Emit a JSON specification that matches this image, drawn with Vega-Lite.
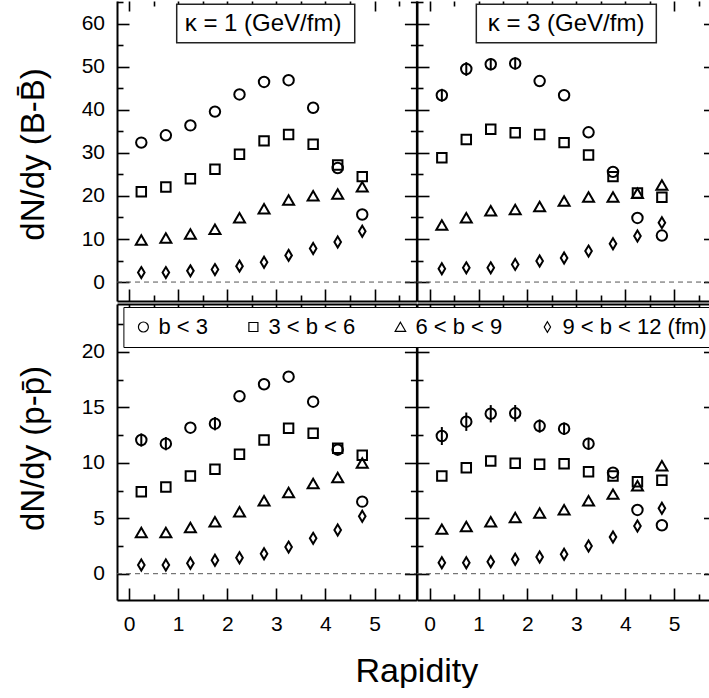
{
  "$schema": "https://vega.github.io/schema/vega-lite/v6.json",
  "autosize": {"type": "pad"},
  "padding": {"left": 17, "top": 0, "right": 0, "bottom": 0},
  "background": "white",
  "config": {
    "view": {"stroke": null},
    "font": "Liberation Sans",
    "axis": {"grid": false, "labels": false, "domain": false, "ticks": true, "tickColor": "black", "tickWidth": 1.6, "domainColor": "black", "domainWidth": 2, "labelColor": "black", "labelFont": "Liberation Sans", "labelFontSize": 21, "labelFlush": false, "labelOverlap": false, "zindex": 0}
  },
  "datasets": {
    "pts": [
      {"k":1,"s":"B","g":"b < 3","r":0.25,"v":32.4},{"k":1,"s":"B","g":"b < 3","r":0.75,"v":34.1},{"k":1,"s":"B","g":"b < 3","r":1.25,"v":36.4},{"k":1,"s":"B","g":"b < 3","r":1.75,"v":39.6},{"k":1,"s":"B","g":"b < 3","r":2.25,"v":43.6},{"k":1,"s":"B","g":"b < 3","r":2.75,"v":46.5},{"k":1,"s":"B","g":"b < 3","r":3.25,"v":46.9},{"k":1,"s":"B","g":"b < 3","r":3.75,"v":40.5},{"k":1,"s":"B","g":"b < 3","r":4.25,"v":26.5},{"k":1,"s":"B","g":"b < 3","r":4.75,"v":15.7},
      {"k":1,"s":"B","g":"3 < b < 6","r":0.25,"v":21.0},{"k":1,"s":"B","g":"3 < b < 6","r":0.75,"v":22.1},{"k":1,"s":"B","g":"3 < b < 6","r":1.25,"v":24.0},{"k":1,"s":"B","g":"3 < b < 6","r":1.75,"v":26.2},{"k":1,"s":"B","g":"3 < b < 6","r":2.25,"v":29.7},{"k":1,"s":"B","g":"3 < b < 6","r":2.75,"v":32.8},{"k":1,"s":"B","g":"3 < b < 6","r":3.25,"v":34.3},{"k":1,"s":"B","g":"3 < b < 6","r":3.75,"v":32.0},{"k":1,"s":"B","g":"3 < b < 6","r":4.25,"v":27.2},{"k":1,"s":"B","g":"3 < b < 6","r":4.75,"v":24.5},
      {"k":1,"s":"B","g":"6 < b < 9","r":0.25,"v":9.7},{"k":1,"s":"B","g":"6 < b < 9","r":0.75,"v":10.2},{"k":1,"s":"B","g":"6 < b < 9","r":1.25,"v":11.1},{"k":1,"s":"B","g":"6 < b < 9","r":1.75,"v":12.2},{"k":1,"s":"B","g":"6 < b < 9","r":2.25,"v":14.9},{"k":1,"s":"B","g":"6 < b < 9","r":2.75,"v":17.0},{"k":1,"s":"B","g":"6 < b < 9","r":3.25,"v":19.0},{"k":1,"s":"B","g":"6 < b < 9","r":3.75,"v":20.0},{"k":1,"s":"B","g":"6 < b < 9","r":4.25,"v":20.4},{"k":1,"s":"B","g":"6 < b < 9","r":4.75,"v":22.1},
      {"k":1,"s":"B","g":"9 < b < 12 (fm)","r":0.25,"v":2.2},{"k":1,"s":"B","g":"9 < b < 12 (fm)","r":0.75,"v":2.2},{"k":1,"s":"B","g":"9 < b < 12 (fm)","r":1.25,"v":2.6},{"k":1,"s":"B","g":"9 < b < 12 (fm)","r":1.75,"v":2.9},{"k":1,"s":"B","g":"9 < b < 12 (fm)","r":2.25,"v":3.7},{"k":1,"s":"B","g":"9 < b < 12 (fm)","r":2.75,"v":4.6},{"k":1,"s":"B","g":"9 < b < 12 (fm)","r":3.25,"v":6.2},{"k":1,"s":"B","g":"9 < b < 12 (fm)","r":3.75,"v":7.8},{"k":1,"s":"B","g":"9 < b < 12 (fm)","r":4.25,"v":9.3},{"k":1,"s":"B","g":"9 < b < 12 (fm)","r":4.75,"v":11.8},
      {"k":3,"s":"B","g":"b < 3","r":0.25,"v":43.4},{"k":3,"s":"B","g":"b < 3","r":0.75,"v":49.5},{"k":3,"s":"B","g":"b < 3","r":1.25,"v":50.6},{"k":3,"s":"B","g":"b < 3","r":1.75,"v":50.8},{"k":3,"s":"B","g":"b < 3","r":2.25,"v":46.7},{"k":3,"s":"B","g":"b < 3","r":2.75,"v":43.4},{"k":3,"s":"B","g":"b < 3","r":3.25,"v":34.8},{"k":3,"s":"B","g":"b < 3","r":3.75,"v":25.6},{"k":3,"s":"B","g":"b < 3","r":4.25,"v":14.9},{"k":3,"s":"B","g":"b < 3","r":4.75,"v":10.8},
      {"k":3,"s":"B","g":"3 < b < 6","r":0.25,"v":28.9},{"k":3,"s":"B","g":"3 < b < 6","r":0.75,"v":33.1},{"k":3,"s":"B","g":"3 < b < 6","r":1.25,"v":35.5},{"k":3,"s":"B","g":"3 < b < 6","r":1.75,"v":34.7},{"k":3,"s":"B","g":"3 < b < 6","r":2.25,"v":34.3},{"k":3,"s":"B","g":"3 < b < 6","r":2.75,"v":32.4},{"k":3,"s":"B","g":"3 < b < 6","r":3.25,"v":29.5},{"k":3,"s":"B","g":"3 < b < 6","r":3.75,"v":24.5},{"k":3,"s":"B","g":"3 < b < 6","r":4.25,"v":20.7},{"k":3,"s":"B","g":"3 < b < 6","r":4.75,"v":19.7},
      {"k":3,"s":"B","g":"6 < b < 9","r":0.25,"v":13.2},{"k":3,"s":"B","g":"6 < b < 9","r":0.75,"v":14.9},{"k":3,"s":"B","g":"6 < b < 9","r":1.25,"v":16.5},{"k":3,"s":"B","g":"6 < b < 9","r":1.75,"v":16.8},{"k":3,"s":"B","g":"6 < b < 9","r":2.25,"v":17.5},{"k":3,"s":"B","g":"6 < b < 9","r":2.75,"v":18.8},{"k":3,"s":"B","g":"6 < b < 9","r":3.25,"v":19.7},{"k":3,"s":"B","g":"6 < b < 9","r":3.75,"v":19.7},{"k":3,"s":"B","g":"6 < b < 9","r":4.25,"v":20.6},{"k":3,"s":"B","g":"6 < b < 9","r":4.75,"v":22.5},
      {"k":3,"s":"B","g":"9 < b < 12 (fm)","r":0.25,"v":3.1},{"k":3,"s":"B","g":"9 < b < 12 (fm)","r":0.75,"v":3.3},{"k":3,"s":"B","g":"9 < b < 12 (fm)","r":1.25,"v":3.3},{"k":3,"s":"B","g":"9 < b < 12 (fm)","r":1.75,"v":4.1},{"k":3,"s":"B","g":"9 < b < 12 (fm)","r":2.25,"v":4.9},{"k":3,"s":"B","g":"9 < b < 12 (fm)","r":2.75,"v":5.6},{"k":3,"s":"B","g":"9 < b < 12 (fm)","r":3.25,"v":7.2},{"k":3,"s":"B","g":"9 < b < 12 (fm)","r":3.75,"v":8.9},{"k":3,"s":"B","g":"9 < b < 12 (fm)","r":4.25,"v":10.7},{"k":3,"s":"B","g":"9 < b < 12 (fm)","r":4.75,"v":13.8},
      {"k":1,"s":"p","g":"b < 3","r":0.25,"v":12.06},{"k":1,"s":"p","g":"b < 3","r":0.75,"v":11.73},{"k":1,"s":"p","g":"b < 3","r":1.25,"v":13.17},{"k":1,"s":"p","g":"b < 3","r":1.75,"v":13.53},{"k":1,"s":"p","g":"b < 3","r":2.25,"v":16.0},{"k":1,"s":"p","g":"b < 3","r":2.75,"v":17.09},{"k":1,"s":"p","g":"b < 3","r":3.25,"v":17.77},{"k":1,"s":"p","g":"b < 3","r":3.75,"v":15.52},{"k":1,"s":"p","g":"b < 3","r":4.25,"v":11.19},{"k":1,"s":"p","g":"b < 3","r":4.75,"v":6.5},
      {"k":1,"s":"p","g":"3 < b < 6","r":0.25,"v":7.4},{"k":1,"s":"p","g":"3 < b < 6","r":0.75,"v":7.82},{"k":1,"s":"p","g":"3 < b < 6","r":1.25,"v":8.81},{"k":1,"s":"p","g":"3 < b < 6","r":1.75,"v":9.42},{"k":1,"s":"p","g":"3 < b < 6","r":2.25,"v":10.77},{"k":1,"s":"p","g":"3 < b < 6","r":2.75,"v":12.06},{"k":1,"s":"p","g":"3 < b < 6","r":3.25,"v":13.12},{"k":1,"s":"p","g":"3 < b < 6","r":3.75,"v":12.67},{"k":1,"s":"p","g":"3 < b < 6","r":4.25,"v":11.31},{"k":1,"s":"p","g":"3 < b < 6","r":4.75,"v":10.68},
      {"k":1,"s":"p","g":"6 < b < 9","r":0.25,"v":3.7},{"k":1,"s":"p","g":"6 < b < 9","r":0.75,"v":3.7},{"k":1,"s":"p","g":"6 < b < 9","r":1.25,"v":4.15},{"k":1,"s":"p","g":"6 < b < 9","r":1.75,"v":4.66},{"k":1,"s":"p","g":"6 < b < 9","r":2.25,"v":5.57},{"k":1,"s":"p","g":"6 < b < 9","r":2.75,"v":6.56},{"k":1,"s":"p","g":"6 < b < 9","r":3.25,"v":7.31},{"k":1,"s":"p","g":"6 < b < 9","r":3.75,"v":8.12},{"k":1,"s":"p","g":"6 < b < 9","r":4.25,"v":8.66},{"k":1,"s":"p","g":"6 < b < 9","r":4.75,"v":9.96},
      {"k":1,"s":"p","g":"9 < b < 12 (fm)","r":0.25,"v":0.78},{"k":1,"s":"p","g":"9 < b < 12 (fm)","r":0.75,"v":0.78},{"k":1,"s":"p","g":"9 < b < 12 (fm)","r":1.25,"v":0.94},{"k":1,"s":"p","g":"9 < b < 12 (fm)","r":1.75,"v":1.21},{"k":1,"s":"p","g":"9 < b < 12 (fm)","r":2.25,"v":1.44},{"k":1,"s":"p","g":"9 < b < 12 (fm)","r":2.75,"v":1.8},{"k":1,"s":"p","g":"9 < b < 12 (fm)","r":3.25,"v":2.4},{"k":1,"s":"p","g":"9 < b < 12 (fm)","r":3.75,"v":3.19},{"k":1,"s":"p","g":"9 < b < 12 (fm)","r":4.25,"v":3.94},{"k":1,"s":"p","g":"9 < b < 12 (fm)","r":4.75,"v":5.18},
      {"k":3,"s":"p","g":"b < 3","r":0.25,"v":12.42},{"k":3,"s":"p","g":"b < 3","r":0.75,"v":13.71},{"k":3,"s":"p","g":"b < 3","r":1.25,"v":14.43},{"k":3,"s":"p","g":"b < 3","r":1.75,"v":14.47},{"k":3,"s":"p","g":"b < 3","r":2.25,"v":13.32},{"k":3,"s":"p","g":"b < 3","r":2.75,"v":13.08},{"k":3,"s":"p","g":"b < 3","r":3.25,"v":11.73},{"k":3,"s":"p","g":"b < 3","r":3.75,"v":9.11},{"k":3,"s":"p","g":"b < 3","r":4.25,"v":5.75},{"k":3,"s":"p","g":"b < 3","r":4.75,"v":4.37},
      {"k":3,"s":"p","g":"3 < b < 6","r":0.25,"v":8.81},{"k":3,"s":"p","g":"3 < b < 6","r":0.75,"v":9.56},{"k":3,"s":"p","g":"3 < b < 6","r":1.25,"v":10.17},{"k":3,"s":"p","g":"3 < b < 6","r":1.75,"v":9.96},{"k":3,"s":"p","g":"3 < b < 6","r":2.25,"v":9.87},{"k":3,"s":"p","g":"3 < b < 6","r":2.75,"v":9.92},{"k":3,"s":"p","g":"3 < b < 6","r":3.25,"v":9.2},{"k":3,"s":"p","g":"3 < b < 6","r":3.75,"v":8.81},{"k":3,"s":"p","g":"3 < b < 6","r":4.25,"v":8.3},{"k":3,"s":"p","g":"3 < b < 6","r":4.75,"v":8.43},
      {"k":3,"s":"p","g":"6 < b < 9","r":0.25,"v":4.0},{"k":3,"s":"p","g":"6 < b < 9","r":0.75,"v":4.24},{"k":3,"s":"p","g":"6 < b < 9","r":1.25,"v":4.66},{"k":3,"s":"p","g":"6 < b < 9","r":1.75,"v":5.05},{"k":3,"s":"p","g":"6 < b < 9","r":2.25,"v":5.45},{"k":3,"s":"p","g":"6 < b < 9","r":2.75,"v":5.75},{"k":3,"s":"p","g":"6 < b < 9","r":3.25,"v":6.56},{"k":3,"s":"p","g":"6 < b < 9","r":3.75,"v":7.16},{"k":3,"s":"p","g":"6 < b < 9","r":4.25,"v":7.91},{"k":3,"s":"p","g":"6 < b < 9","r":4.75,"v":9.72},
      {"k":3,"s":"p","g":"9 < b < 12 (fm)","r":0.25,"v":0.99},{"k":3,"s":"p","g":"9 < b < 12 (fm)","r":0.75,"v":0.99},{"k":3,"s":"p","g":"9 < b < 12 (fm)","r":1.25,"v":1.08},{"k":3,"s":"p","g":"9 < b < 12 (fm)","r":1.75,"v":1.3},{"k":3,"s":"p","g":"9 < b < 12 (fm)","r":2.25,"v":1.5},{"k":3,"s":"p","g":"9 < b < 12 (fm)","r":2.75,"v":1.75},{"k":3,"s":"p","g":"9 < b < 12 (fm)","r":3.25,"v":2.5},{"k":3,"s":"p","g":"9 < b < 12 (fm)","r":3.75,"v":3.31},{"k":3,"s":"p","g":"9 < b < 12 (fm)","r":4.25,"v":4.3},{"k":3,"s":"p","g":"9 < b < 12 (fm)","r":4.75,"v":5.9}
    ],
    "errs": [
      {"k":3,"s":"B","r":0.25,"lo":41.9,"hi":44.9},{"k":3,"s":"B","r":0.75,"lo":47.9,"hi":51.1},{"k":3,"s":"B","r":1.25,"lo":49.2,"hi":52.0},{"k":3,"s":"B","r":1.75,"lo":49.4,"hi":52.2},
      {"k":1,"s":"p","r":0.25,"lo":11.46,"hi":12.66},{"k":1,"s":"p","r":0.75,"lo":11.13,"hi":12.33},{"k":1,"s":"p","r":1.75,"lo":12.93,"hi":14.13},
      {"k":3,"s":"p","r":0.25,"lo":11.61,"hi":13.23},{"k":3,"s":"p","r":0.75,"lo":12.88,"hi":14.54},{"k":3,"s":"p","r":1.25,"lo":13.65,"hi":15.21},{"k":3,"s":"p","r":1.75,"lo":13.72,"hi":15.22},{"k":3,"s":"p","r":2.25,"lo":12.72,"hi":13.92},{"k":3,"s":"p","r":2.75,"lo":12.52,"hi":13.64},{"k":3,"s":"p","r":3.25,"lo":11.2,"hi":12.26}
    ]
  },
  "columns": 2,
  "align": "each",
  "bounds": "flush",
  "spacing": {"row": 3, "column": 0},
  "resolve": {"scale": {"x": "independent", "y": "independent", "shape": "shared"}, "axis": {"x": "independent", "y": "independent"}, "legend": {"shape": "shared"}},
  "concat": [
    {
      "width": 299.4, "height": 300,
      "resolve": {"axis": {"x": "independent", "y": "independent"}},
      "layer": [
        {"data": {"values": [{}]}, "mark": {"type": "rule", "strokeDash": [5, 4], "color": "#555", "strokeWidth": 1},
         "encoding": {
           "x": {"datum": -0.245, "type": "quantitative", "scale": {"domain": [-0.245, 5.853], "nice": false, "zero": false}, "axis": {"orient": "bottom", "values": [0,1,2,3,4,5], "tickSize": -12, "domain": true, "title": null}},
           "x2": {"datum": 5.853},
           "y": {"datum": 0, "type": "quantitative", "scale": {"domain": [-4.4, 65.3], "nice": false, "zero": false}, "axis": {"orient": "left", "values": [0,10,20,30,40,50,60], "tickSize": -12, "domain": true, "title": null}}}},
        {"data": {"name": "pts"}, "transform": [{"filter": "datum.k == 1 && datum.s == 'B' && datum.g == 'b < 3'"}],
         "mark": {"type": "point", "filled": false, "opacity": 1, "stroke": "black", "strokeWidth": 2, "size": 121},
         "encoding": {
           "x": {"field": "r", "type": "quantitative", "scale": {"domain": [-0.245, 5.853], "nice": false, "zero": false}, "axis": {"orient": "bottom", "values": [0.5,1.5,2.5,3.5,4.5,5.5], "tickSize": -6, "title": null}},
           "y": {"field": "v", "type": "quantitative", "scale": {"domain": [-4.4, 65.3], "nice": false, "zero": false}, "axis": {"orient": "left", "values": [5,15,25,35,45,55,65], "tickSize": -6, "title": null}},
           "shape": {"field": "g", "type": "nominal", "scale": {"domain": ["b < 3", "3 < b < 6", "6 < b < 9", "9 < b < 12 (fm)"], "range": ["M0.95,0A0.95,0.95,0,1,1,-0.95,0A0.95,0.95,0,1,1,0.95,0Z", "M-0.86,-0.86L0.86,-0.86L0.86,0.86L-0.86,0.86Z", "M0,-0.9L1,0.82L-1,0.82Z", "M0,-1L0.6,0L0,1L-0.6,0Z"]},
             "legend": {"orient": "none", "legendX": 6.4, "legendY": 306, "direction": "horizontal", "columns": 4, "title": null, "symbolSize": 110, "symbolStrokeWidth": 1.2, "symbolStrokeColor": "black", "symbolFillColor": "transparent", "symbolOpacity": 1, "labelFont": "Liberation Sans", "labelFontSize": 22, "labelColor": "black", "labelOffset": 4, "labelLimit": 400, "columnPadding": 34, "padding": 9, "strokeColor": "black", "fillColor": "white", "zindex": 1}}}},
        {"data": {"name": "pts"}, "transform": [{"filter": "datum.k == 1 && datum.s == 'B' && datum.g == '3 < b < 6'"}],
         "mark": {"type": "point", "filled": false, "opacity": 1, "stroke": "black", "strokeWidth": 2, "size": 121},
         "encoding": {
           "x": {"field": "r", "type": "quantitative", "scale": {"domain": [-0.245, 5.853], "nice": false, "zero": false}, "axis": {"orient": "top", "values": [0,1,2,3,4,5], "tickSize": -10, "title": null}},
           "y": {"field": "v", "type": "quantitative", "scale": {"domain": [-4.4, 65.3], "nice": false, "zero": false}, "axis": {"orient": "right", "values": [0,10,20,30,40,50,60], "tickSize": -12, "domain": true, "title": null}},
           "shape": {"field": "g", "type": "nominal", "scale": {"domain": ["b < 3", "3 < b < 6", "6 < b < 9", "9 < b < 12 (fm)"], "range": ["M0.95,0A0.95,0.95,0,1,1,-0.95,0A0.95,0.95,0,1,1,0.95,0Z", "M-0.86,-0.86L0.86,-0.86L0.86,0.86L-0.86,0.86Z", "M0,-0.9L1,0.82L-1,0.82Z", "M0,-1L0.6,0L0,1L-0.6,0Z"]}, "legend": null}}},
        {"data": {"name": "pts"}, "transform": [{"filter": "datum.k == 1 && datum.s == 'B' && datum.g == '6 < b < 9'"}],
         "mark": {"type": "point", "filled": false, "opacity": 1, "stroke": "black", "strokeWidth": 2, "size": 121},
         "encoding": {
           "x": {"field": "r", "type": "quantitative", "scale": {"domain": [-0.245, 5.853], "nice": false, "zero": false}, "axis": {"orient": "top", "values": [0.5,1.5,2.5,3.5,4.5,5.5], "tickSize": -5, "title": null}},
           "y": {"field": "v", "type": "quantitative", "scale": {"domain": [-4.4, 65.3], "nice": false, "zero": false}, "axis": {"orient": "right", "values": [5,15,25,35,45,55,65], "tickSize": -6, "title": null}},
           "shape": {"field": "g", "type": "nominal", "scale": {"domain": ["b < 3", "3 < b < 6", "6 < b < 9", "9 < b < 12 (fm)"], "range": ["M0.95,0A0.95,0.95,0,1,1,-0.95,0A0.95,0.95,0,1,1,0.95,0Z", "M-0.86,-0.86L0.86,-0.86L0.86,0.86L-0.86,0.86Z", "M0,-0.9L1,0.82L-1,0.82Z", "M0,-1L0.6,0L0,1L-0.6,0Z"]}, "legend": null}}},
        {"data": {"name": "pts"}, "transform": [{"filter": "datum.k == 1 && datum.s == 'B' && datum.g == '9 < b < 12 (fm)'"}],
         "mark": {"type": "point", "filled": false, "opacity": 1, "stroke": "black", "strokeWidth": 2, "size": 121},
         "encoding": {
           "x": {"field": "r", "type": "quantitative", "scale": {"domain": [-0.245, 5.853], "nice": false, "zero": false}, "axis": null},
           "y": {"field": "v", "type": "quantitative", "scale": {"domain": [-4.4, 65.3], "nice": false, "zero": false}, "axis": {"orient": "left", "values": [0,10,20,30,40,50,60], "labels": true, "ticks": false, "tickSize": 0, "labelPadding": 12.5, "title": "dN/dy (B-B\u0304)", "titleFont": "Liberation Sans", "titleFontSize": 33, "titleFontWeight": "normal", "titleColor": "black", "titleAngle": 270, "titleX": -74, "titleY": 153, "titleBaseline": "alphabetic", "titleAlign": "center"}},
           "shape": {"field": "g", "type": "nominal", "scale": {"domain": ["b < 3", "3 < b < 6", "6 < b < 9", "9 < b < 12 (fm)"], "range": ["M0.95,0A0.95,0.95,0,1,1,-0.95,0A0.95,0.95,0,1,1,0.95,0Z", "M-0.86,-0.86L0.86,-0.86L0.86,0.86L-0.86,0.86Z", "M0,-0.9L1,0.82L-1,0.82Z", "M0,-1L0.6,0L0,1L-0.6,0Z"]}, "legend": null}}},
        {"data": {"values": [{}]}, "mark": {"type": "rect", "fill": "white", "stroke": "#222", "strokeWidth": 1.5},
         "encoding": {
           "x": {"datum": 0.971, "type": "quantitative", "scale": {"domain": [-0.245, 5.853], "nice": false, "zero": false}, "axis": null},
           "x2": {"datum": 4.597},
           "y": {"datum": 64.53, "type": "quantitative", "scale": {"domain": [-4.4, 65.3], "nice": false, "zero": false}, "axis": null},
           "y2": {"datum": 55.61}}},
        {"data": {"values": [{"t": "κ = 1 (GeV/fm)"}]}, "mark": {"type": "text", "font": "Liberation Sans", "fontSize": 24, "align": "center", "baseline": "middle", "color": "black"},
         "encoding": {
           "x": {"datum": 2.73, "type": "quantitative", "scale": {"domain": [-0.245, 5.853], "nice": false, "zero": false}, "axis": null},
           "y": {"datum": 60.07, "type": "quantitative", "scale": {"domain": [-4.4, 65.3], "nice": false, "zero": false}, "axis": null},
           "text": {"field": "t"}}}
      ]
    },
    {
      "width": 291.5, "height": 300,
      "resolve": {"axis": {"x": "independent", "y": "independent"}},
      "layer": [
        {"data": {"values": [{}]}, "mark": {"type": "rule", "strokeDash": [5, 4], "color": "#555", "strokeWidth": 1},
         "encoding": {
           "x": {"datum": -0.258, "type": "quantitative", "scale": {"domain": [-0.258, 5.703], "nice": false, "zero": false}, "axis": {"orient": "bottom", "values": [0,1,2,3,4,5], "tickSize": -12, "domain": true, "title": null}},
           "x2": {"datum": 5.703},
           "y": {"datum": 0, "type": "quantitative", "scale": {"domain": [-4.4, 65.3], "nice": false, "zero": false}, "axis": {"orient": "left", "values": [0,10,20,30,40,50,60], "tickSize": -12, "domain": true, "title": null}}}},
        {"data": {"name": "pts"}, "transform": [{"filter": "datum.k == 3 && datum.s == 'B' && datum.g == 'b < 3'"}],
         "mark": {"type": "point", "filled": false, "opacity": 1, "stroke": "black", "strokeWidth": 2, "size": 121},
         "encoding": {
           "x": {"field": "r", "type": "quantitative", "scale": {"domain": [-0.258, 5.703], "nice": false, "zero": false}, "axis": {"orient": "bottom", "values": [0.5,1.5,2.5,3.5,4.5,5.5], "tickSize": -6, "title": null}},
           "y": {"field": "v", "type": "quantitative", "scale": {"domain": [-4.4, 65.3], "nice": false, "zero": false}, "axis": {"orient": "left", "values": [5,15,25,35,45,55,65], "tickSize": -6, "title": null}},
           "shape": {"field": "g", "type": "nominal", "scale": {"domain": ["b < 3", "3 < b < 6", "6 < b < 9", "9 < b < 12 (fm)"], "range": ["M0.95,0A0.95,0.95,0,1,1,-0.95,0A0.95,0.95,0,1,1,0.95,0Z", "M-0.86,-0.86L0.86,-0.86L0.86,0.86L-0.86,0.86Z", "M0,-0.9L1,0.82L-1,0.82Z", "M0,-1L0.6,0L0,1L-0.6,0Z"]}, "legend": null}}},
        {"data": {"name": "pts"}, "transform": [{"filter": "datum.k == 3 && datum.s == 'B' && datum.g == '3 < b < 6'"}],
         "mark": {"type": "point", "filled": false, "opacity": 1, "stroke": "black", "strokeWidth": 2, "size": 121},
         "encoding": {
           "x": {"field": "r", "type": "quantitative", "scale": {"domain": [-0.258, 5.703], "nice": false, "zero": false}, "axis": {"orient": "top", "values": [0,1,2,3,4,5], "tickSize": -10, "title": null}},
           "y": {"field": "v", "type": "quantitative", "scale": {"domain": [-4.4, 65.3], "nice": false, "zero": false}, "axis": {"orient": "right", "values": [0,10,20,30,40,50,60], "tickSize": -5, "title": null}},
           "shape": {"field": "g", "type": "nominal", "scale": {"domain": ["b < 3", "3 < b < 6", "6 < b < 9", "9 < b < 12 (fm)"], "range": ["M0.95,0A0.95,0.95,0,1,1,-0.95,0A0.95,0.95,0,1,1,0.95,0Z", "M-0.86,-0.86L0.86,-0.86L0.86,0.86L-0.86,0.86Z", "M0,-0.9L1,0.82L-1,0.82Z", "M0,-1L0.6,0L0,1L-0.6,0Z"]}, "legend": null}}},
        {"data": {"name": "pts"}, "transform": [{"filter": "datum.k == 3 && datum.s == 'B' && datum.g == '6 < b < 9'"}],
         "mark": {"type": "point", "filled": false, "opacity": 1, "stroke": "black", "strokeWidth": 2, "size": 121},
         "encoding": {
           "x": {"field": "r", "type": "quantitative", "scale": {"domain": [-0.258, 5.703], "nice": false, "zero": false}, "axis": {"orient": "top", "values": [0.5,1.5,2.5,3.5,4.5,5.5], "tickSize": -5, "title": null}},
           "y": {"field": "v", "type": "quantitative", "scale": {"domain": [-4.4, 65.3], "nice": false, "zero": false}, "axis": null},
           "shape": {"field": "g", "type": "nominal", "scale": {"domain": ["b < 3", "3 < b < 6", "6 < b < 9", "9 < b < 12 (fm)"], "range": ["M0.95,0A0.95,0.95,0,1,1,-0.95,0A0.95,0.95,0,1,1,0.95,0Z", "M-0.86,-0.86L0.86,-0.86L0.86,0.86L-0.86,0.86Z", "M0,-0.9L1,0.82L-1,0.82Z", "M0,-1L0.6,0L0,1L-0.6,0Z"]}, "legend": null}}},
        {"data": {"name": "pts"}, "transform": [{"filter": "datum.k == 3 && datum.s == 'B' && datum.g == '9 < b < 12 (fm)'"}],
         "mark": {"type": "point", "filled": false, "opacity": 1, "stroke": "black", "strokeWidth": 2, "size": 121},
         "encoding": {
           "x": {"field": "r", "type": "quantitative", "scale": {"domain": [-0.258, 5.703], "nice": false, "zero": false}, "axis": null},
           "y": {"field": "v", "type": "quantitative", "scale": {"domain": [-4.4, 65.3], "nice": false, "zero": false}, "axis": null},
           "shape": {"field": "g", "type": "nominal", "scale": {"domain": ["b < 3", "3 < b < 6", "6 < b < 9", "9 < b < 12 (fm)"], "range": ["M0.95,0A0.95,0.95,0,1,1,-0.95,0A0.95,0.95,0,1,1,0.95,0Z", "M-0.86,-0.86L0.86,-0.86L0.86,0.86L-0.86,0.86Z", "M0,-0.9L1,0.82L-1,0.82Z", "M0,-1L0.6,0L0,1L-0.6,0Z"]}, "legend": null}}},
        {"data": {"name": "errs"}, "transform": [{"filter": "datum.k == 3 && datum.s == 'B'"}],
         "mark": {"type": "rule", "color": "black", "strokeWidth": 2},
         "encoding": {
           "x": {"field": "r", "type": "quantitative", "scale": {"domain": [-0.258, 5.703], "nice": false, "zero": false}, "axis": null},
           "y": {"field": "lo", "type": "quantitative", "scale": {"domain": [-4.4, 65.3], "nice": false, "zero": false}, "axis": null},
           "y2": {"field": "hi"}}},
        {"data": {"values": [{}]}, "mark": {"type": "rect", "fill": "white", "stroke": "#222", "strokeWidth": 1.5},
         "encoding": {
           "x": {"datum": 0.955, "type": "quantitative", "scale": {"domain": [-0.258, 5.703], "nice": false, "zero": false}, "axis": null},
           "x2": {"datum": 4.636},
           "y": {"datum": 64.53, "type": "quantitative", "scale": {"domain": [-4.4, 65.3], "nice": false, "zero": false}, "axis": null},
           "y2": {"datum": 55.61}}},
        {"data": {"values": [{"t": "κ = 3 (GeV/fm)"}]}, "mark": {"type": "text", "font": "Liberation Sans", "fontSize": 24, "align": "center", "baseline": "middle", "color": "black"},
         "encoding": {
           "x": {"datum": 2.79, "type": "quantitative", "scale": {"domain": [-0.258, 5.703], "nice": false, "zero": false}, "axis": null},
           "y": {"datum": 60.07, "type": "quantitative", "scale": {"domain": [-4.4, 65.3], "nice": false, "zero": false}, "axis": null},
           "text": {"field": "t"}}}
      ]
    },
    {
      "width": 299.4, "height": 296,
      "resolve": {"axis": {"x": "independent", "y": "independent"}},
      "layer": [
        {"data": {"values": [{}]}, "mark": {"type": "rule", "strokeDash": [5, 4], "color": "#555", "strokeWidth": 1},
         "encoding": {
           "x": {"datum": -0.245, "type": "quantitative", "scale": {"domain": [-0.245, 5.853], "nice": false, "zero": false}, "axis": {"orient": "bottom", "values": [0,1,2,3,4,5], "tickSize": -12, "domain": true, "title": null}},
           "x2": {"datum": 5.853},
           "y": {"datum": 0, "type": "quantitative", "scale": {"domain": [-2.373, 24.33], "nice": false, "zero": false}, "axis": {"orient": "left", "values": [0,5,10,15,20], "tickSize": -12, "domain": true, "title": null}}}},
        {"data": {"name": "pts"}, "transform": [{"filter": "datum.k == 1 && datum.s == 'p' && datum.g == 'b < 3'"}],
         "mark": {"type": "point", "filled": false, "opacity": 1, "stroke": "black", "strokeWidth": 2, "size": 121},
         "encoding": {
           "x": {"field": "r", "type": "quantitative", "scale": {"domain": [-0.245, 5.853], "nice": false, "zero": false}, "axis": {"orient": "bottom", "values": [0.5,1.5,2.5,3.5,4.5,5.5], "tickSize": -6, "title": null}},
           "y": {"field": "v", "type": "quantitative", "scale": {"domain": [-2.373, 24.33], "nice": false, "zero": false}, "axis": {"orient": "left", "values": [2.5,7.5,12.5,17.5,22.5], "tickSize": -6, "title": null}},
           "shape": {"field": "g", "type": "nominal", "scale": {"domain": ["b < 3", "3 < b < 6", "6 < b < 9", "9 < b < 12 (fm)"], "range": ["M0.95,0A0.95,0.95,0,1,1,-0.95,0A0.95,0.95,0,1,1,0.95,0Z", "M-0.86,-0.86L0.86,-0.86L0.86,0.86L-0.86,0.86Z", "M0,-0.9L1,0.82L-1,0.82Z", "M0,-1L0.6,0L0,1L-0.6,0Z"]}, "legend": null}}},
        {"data": {"name": "pts"}, "transform": [{"filter": "datum.k == 1 && datum.s == 'p' && datum.g == '3 < b < 6'"}],
         "mark": {"type": "point", "filled": false, "opacity": 1, "stroke": "black", "strokeWidth": 2, "size": 121},
         "encoding": {
           "x": {"field": "r", "type": "quantitative", "scale": {"domain": [-0.245, 5.853], "nice": false, "zero": false}, "axis": {"orient": "top", "values": [0,1,2,3,4,5], "tickSize": -12, "domain": true, "title": null}},
           "y": {"field": "v", "type": "quantitative", "scale": {"domain": [-2.373, 24.33], "nice": false, "zero": false}, "axis": {"orient": "right", "values": [0,5,10,15,20], "tickSize": -12, "domain": true, "title": null}},
           "shape": {"field": "g", "type": "nominal", "scale": {"domain": ["b < 3", "3 < b < 6", "6 < b < 9", "9 < b < 12 (fm)"], "range": ["M0.95,0A0.95,0.95,0,1,1,-0.95,0A0.95,0.95,0,1,1,0.95,0Z", "M-0.86,-0.86L0.86,-0.86L0.86,0.86L-0.86,0.86Z", "M0,-0.9L1,0.82L-1,0.82Z", "M0,-1L0.6,0L0,1L-0.6,0Z"]}, "legend": null}}},
        {"data": {"name": "pts"}, "transform": [{"filter": "datum.k == 1 && datum.s == 'p' && datum.g == '6 < b < 9'"}],
         "mark": {"type": "point", "filled": false, "opacity": 1, "stroke": "black", "strokeWidth": 2, "size": 121},
         "encoding": {
           "x": {"field": "r", "type": "quantitative", "scale": {"domain": [-0.245, 5.853], "nice": false, "zero": false}, "axis": {"orient": "top", "values": [0.5,1.5,2.5,3.5,4.5,5.5], "tickSize": -6, "title": null}},
           "y": {"field": "v", "type": "quantitative", "scale": {"domain": [-2.373, 24.33], "nice": false, "zero": false}, "axis": {"orient": "right", "values": [2.5,7.5,12.5,17.5,22.5], "tickSize": -6, "title": null}},
           "shape": {"field": "g", "type": "nominal", "scale": {"domain": ["b < 3", "3 < b < 6", "6 < b < 9", "9 < b < 12 (fm)"], "range": ["M0.95,0A0.95,0.95,0,1,1,-0.95,0A0.95,0.95,0,1,1,0.95,0Z", "M-0.86,-0.86L0.86,-0.86L0.86,0.86L-0.86,0.86Z", "M0,-0.9L1,0.82L-1,0.82Z", "M0,-1L0.6,0L0,1L-0.6,0Z"]}, "legend": null}}},
        {"data": {"name": "pts"}, "transform": [{"filter": "datum.k == 1 && datum.s == 'p' && datum.g == '9 < b < 12 (fm)'"}],
         "mark": {"type": "point", "filled": false, "opacity": 1, "stroke": "black", "strokeWidth": 2, "size": 121},
         "encoding": {
           "x": {"field": "r", "type": "quantitative", "scale": {"domain": [-0.245, 5.853], "nice": false, "zero": false}, "axis": {"orient": "bottom", "values": [0,1,2,3,4,5], "labels": true, "ticks": false, "tickSize": 0, "labelPadding": 13, "title": "Rapidity", "titleFont": "Liberation Sans", "titleFontSize": 34, "titleFontWeight": "normal", "titleColor": "black", "titleX": 299.4, "titleY": 81, "titleBaseline": "alphabetic", "titleAlign": "center"}},
           "y": {"field": "v", "type": "quantitative", "scale": {"domain": [-2.373, 24.33], "nice": false, "zero": false}, "axis": {"orient": "left", "values": [0,5,10,15,20], "labels": true, "ticks": false, "tickSize": 0, "labelPadding": 12.5, "title": "dN/dy (p-p\u0304)", "titleFont": "Liberation Sans", "titleFontSize": 33, "titleFontWeight": "normal", "titleColor": "black", "titleAngle": 270, "titleX": -74, "titleY": 144, "titleBaseline": "alphabetic", "titleAlign": "center"}},
           "shape": {"field": "g", "type": "nominal", "scale": {"domain": ["b < 3", "3 < b < 6", "6 < b < 9", "9 < b < 12 (fm)"], "range": ["M0.95,0A0.95,0.95,0,1,1,-0.95,0A0.95,0.95,0,1,1,0.95,0Z", "M-0.86,-0.86L0.86,-0.86L0.86,0.86L-0.86,0.86Z", "M0,-0.9L1,0.82L-1,0.82Z", "M0,-1L0.6,0L0,1L-0.6,0Z"]}, "legend": null}}},
        {"data": {"name": "errs"}, "transform": [{"filter": "datum.k == 1 && datum.s == 'p'"}],
         "mark": {"type": "rule", "color": "black", "strokeWidth": 2},
         "encoding": {
           "x": {"field": "r", "type": "quantitative", "scale": {"domain": [-0.245, 5.853], "nice": false, "zero": false}, "axis": null},
           "y": {"field": "lo", "type": "quantitative", "scale": {"domain": [-2.373, 24.33], "nice": false, "zero": false}, "axis": null},
           "y2": {"field": "hi"}}}
      ]
    },
    {
      "width": 291.5, "height": 296,
      "resolve": {"axis": {"x": "independent", "y": "independent"}},
      "layer": [
        {"data": {"values": [{}]}, "mark": {"type": "rule", "strokeDash": [5, 4], "color": "#555", "strokeWidth": 1},
         "encoding": {
           "x": {"datum": -0.258, "type": "quantitative", "scale": {"domain": [-0.258, 5.703], "nice": false, "zero": false}, "axis": {"orient": "bottom", "values": [0,1,2,3,4,5], "tickSize": -12, "domain": true, "title": null}},
           "x2": {"datum": 5.703},
           "y": {"datum": 0, "type": "quantitative", "scale": {"domain": [-2.373, 24.33], "nice": false, "zero": false}, "axis": {"orient": "left", "values": [0,5,10,15,20], "tickSize": -12, "domain": true, "title": null}}}},
        {"data": {"name": "pts"}, "transform": [{"filter": "datum.k == 3 && datum.s == 'p' && datum.g == 'b < 3'"}],
         "mark": {"type": "point", "filled": false, "opacity": 1, "stroke": "black", "strokeWidth": 2, "size": 121},
         "encoding": {
           "x": {"field": "r", "type": "quantitative", "scale": {"domain": [-0.258, 5.703], "nice": false, "zero": false}, "axis": {"orient": "bottom", "values": [0.5,1.5,2.5,3.5,4.5,5.5], "tickSize": -6, "title": null}},
           "y": {"field": "v", "type": "quantitative", "scale": {"domain": [-2.373, 24.33], "nice": false, "zero": false}, "axis": {"orient": "left", "values": [2.5,7.5,12.5,17.5,22.5], "tickSize": -6, "title": null}},
           "shape": {"field": "g", "type": "nominal", "scale": {"domain": ["b < 3", "3 < b < 6", "6 < b < 9", "9 < b < 12 (fm)"], "range": ["M0.95,0A0.95,0.95,0,1,1,-0.95,0A0.95,0.95,0,1,1,0.95,0Z", "M-0.86,-0.86L0.86,-0.86L0.86,0.86L-0.86,0.86Z", "M0,-0.9L1,0.82L-1,0.82Z", "M0,-1L0.6,0L0,1L-0.6,0Z"]}, "legend": null}}},
        {"data": {"name": "pts"}, "transform": [{"filter": "datum.k == 3 && datum.s == 'p' && datum.g == '3 < b < 6'"}],
         "mark": {"type": "point", "filled": false, "opacity": 1, "stroke": "black", "strokeWidth": 2, "size": 121},
         "encoding": {
           "x": {"field": "r", "type": "quantitative", "scale": {"domain": [-0.258, 5.703], "nice": false, "zero": false}, "axis": {"orient": "top", "values": [0,1,2,3,4,5], "tickSize": -12, "domain": true, "title": null}},
           "y": {"field": "v", "type": "quantitative", "scale": {"domain": [-2.373, 24.33], "nice": false, "zero": false}, "axis": {"orient": "right", "values": [0,5,10,15,20], "tickSize": -5, "title": null}},
           "shape": {"field": "g", "type": "nominal", "scale": {"domain": ["b < 3", "3 < b < 6", "6 < b < 9", "9 < b < 12 (fm)"], "range": ["M0.95,0A0.95,0.95,0,1,1,-0.95,0A0.95,0.95,0,1,1,0.95,0Z", "M-0.86,-0.86L0.86,-0.86L0.86,0.86L-0.86,0.86Z", "M0,-0.9L1,0.82L-1,0.82Z", "M0,-1L0.6,0L0,1L-0.6,0Z"]}, "legend": null}}},
        {"data": {"name": "pts"}, "transform": [{"filter": "datum.k == 3 && datum.s == 'p' && datum.g == '6 < b < 9'"}],
         "mark": {"type": "point", "filled": false, "opacity": 1, "stroke": "black", "strokeWidth": 2, "size": 121},
         "encoding": {
           "x": {"field": "r", "type": "quantitative", "scale": {"domain": [-0.258, 5.703], "nice": false, "zero": false}, "axis": {"orient": "top", "values": [0.5,1.5,2.5,3.5,4.5,5.5], "tickSize": -6, "title": null}},
           "y": {"field": "v", "type": "quantitative", "scale": {"domain": [-2.373, 24.33], "nice": false, "zero": false}, "axis": null},
           "shape": {"field": "g", "type": "nominal", "scale": {"domain": ["b < 3", "3 < b < 6", "6 < b < 9", "9 < b < 12 (fm)"], "range": ["M0.95,0A0.95,0.95,0,1,1,-0.95,0A0.95,0.95,0,1,1,0.95,0Z", "M-0.86,-0.86L0.86,-0.86L0.86,0.86L-0.86,0.86Z", "M0,-0.9L1,0.82L-1,0.82Z", "M0,-1L0.6,0L0,1L-0.6,0Z"]}, "legend": null}}},
        {"data": {"name": "pts"}, "transform": [{"filter": "datum.k == 3 && datum.s == 'p' && datum.g == '9 < b < 12 (fm)'"}],
         "mark": {"type": "point", "filled": false, "opacity": 1, "stroke": "black", "strokeWidth": 2, "size": 121},
         "encoding": {
           "x": {"field": "r", "type": "quantitative", "scale": {"domain": [-0.258, 5.703], "nice": false, "zero": false}, "axis": {"orient": "bottom", "values": [0,1,2,3,4,5], "labels": true, "ticks": false, "tickSize": 0, "labelPadding": 13, "title": null}},
           "y": {"field": "v", "type": "quantitative", "scale": {"domain": [-2.373, 24.33], "nice": false, "zero": false}, "axis": null},
           "shape": {"field": "g", "type": "nominal", "scale": {"domain": ["b < 3", "3 < b < 6", "6 < b < 9", "9 < b < 12 (fm)"], "range": ["M0.95,0A0.95,0.95,0,1,1,-0.95,0A0.95,0.95,0,1,1,0.95,0Z", "M-0.86,-0.86L0.86,-0.86L0.86,0.86L-0.86,0.86Z", "M0,-0.9L1,0.82L-1,0.82Z", "M0,-1L0.6,0L0,1L-0.6,0Z"]}, "legend": null}}},
        {"data": {"name": "errs"}, "transform": [{"filter": "datum.k == 3 && datum.s == 'p'"}],
         "mark": {"type": "rule", "color": "black", "strokeWidth": 2},
         "encoding": {
           "x": {"field": "r", "type": "quantitative", "scale": {"domain": [-0.258, 5.703], "nice": false, "zero": false}, "axis": null},
           "y": {"field": "lo", "type": "quantitative", "scale": {"domain": [-2.373, 24.33], "nice": false, "zero": false}, "axis": null},
           "y2": {"field": "hi"}}}
      ]
    }
  ]
}
